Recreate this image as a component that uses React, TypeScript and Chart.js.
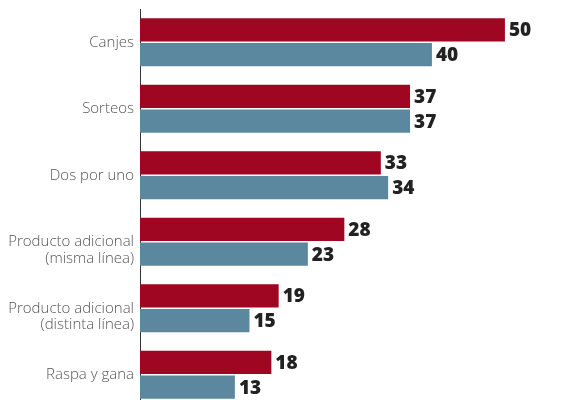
import React, { useEffect, useRef } from "react";
import { Chart, registerables } from "chart.js";

Chart.register(...registerables);

const categories: string[][] = [
  ["Canjes"],
  ["Sorteos"],
  ["Dos por uno"],
  ["", "Producto adicional", "(misma línea)"],
  ["", "Producto adicional", "(distinta línea)"],
  ["Raspa y gana"],
];
const seriesA: number[] = [50, 37, 33, 28, 19, 18];
const seriesB: number[] = [40, 37, 34, 23, 15, 13];
const colorA = "#9e0622";
const colorB = "#5b889e";

const valueLabels = {
  id: "valueLabels",
  afterDatasetsDraw(chart: any) {
    const ctx = chart.ctx;
    ctx.save();
    ctx.font = "800 19px 'Open Sans'";
    ctx.fillStyle = "#222";
    ctx.textBaseline = "middle";
    ctx.textAlign = "left";
    chart.data.datasets.forEach((ds: any, i: number) => {
      const meta = chart.getDatasetMeta(i);
      meta.data.forEach((bar: any, j: number) => {
        ctx.fillText(String(ds.data[j]), bar.x + 4, bar.y + 1);
      });
    });
    ctx.restore();
  },
};

export default function App() {
  const ref = useRef<HTMLCanvasElement>(null);
  useEffect(() => {
    if (!ref.current) return;
    const chart = new Chart(ref.current, {
      type: "bar",
      data: {
        labels: categories,
        datasets: [
          { data: seriesA, backgroundColor: colorA },
          { data: seriesB, backgroundColor: colorB },
        ],
      },
      options: {
        indexAxis: "y",
        animation: false,
        responsive: false,
        maintainAspectRatio: false,
        datasets: { bar: { categoryPercentage: 0.75, barPercentage: 0.93 } },
        layout: { padding: { top: 9, bottom: 2, right: 11, left: 0 } },
        plugins: { legend: { display: false }, tooltip: { enabled: false } },
        scales: {
          x: { display: false, min: 0, max: 57 },
          y: {
            grid: { display: false, drawTicks: false },
            border: { display: true, color: "#333", width: 1 },
            afterFit: (s: any) => {
              s.width = 140;
              s.paddingTop = 0;
              s.paddingBottom = 0;
            },
            ticks: {
              padding: 6,
              color: "#555",
              font: { family: "'Open Sans'", size: 15, weight: "300", lineHeight: 1.1 },
            },
          },
        },
      },
      plugins: [valueLabels],
    });
    return () => chart.destroy();
  }, []);
  return (
    <div style={{ position: "fixed", left: 0, top: 0, width: 567, height: 410 }}>
      <canvas ref={ref} width={567} height={410} style={{ width: 567, height: 410 }} />
    </div>
  );
}
